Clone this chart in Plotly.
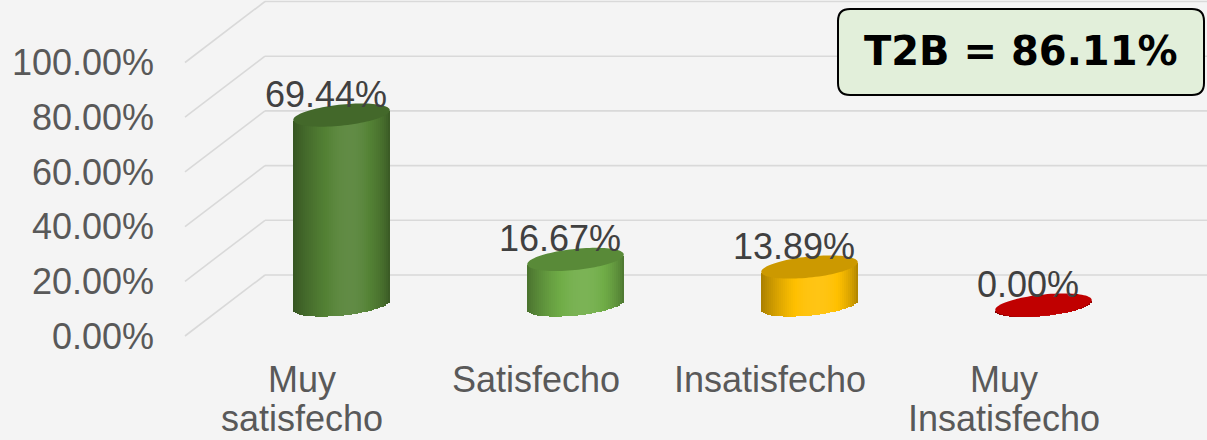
import math
import plotly.graph_objects as go

# ---------------- data ----------------
categories = ["Muy satisfecho", "Satisfecho", "Insatisfecho", "Muy Insatisfecho"]
values = [69.44, 16.67, 13.89, 0.00]
value_labels = ["69.44%", "16.67%", "13.89%", "0.00%"]
tick_values = [0, 20, 40, 60, 80, 100]
tick_labels = ["0.00%", "20.00%", "40.00%", "60.00%", "80.00%", "100.00%"]
bar_colors = ["#548235", "#70AD47", "#FFC000", "#C00000"]
summary_text = "T2B = 86.11%"

# ---------------- geometry ----------------
W, H = 1207, 440
L = 185                      # left margin (plot area starts here)
PX_X = 234.0                 # pixels per category step
PX_Y = 2.735                 # pixels per percent
BAR_PX = 97.0                # bar width in px
N_STRIPS = 48

xlo = -(341.5 - L) / PX_X
xhi = xlo + (W - L) / PX_X


def yrange(zero_px):
    hi = zero_px / PX_Y
    return [hi - H / PX_Y, hi]


y_label_rng = yrange(336)    # front (tick labels)
y_grid_rng = yrange(275)     # back wall (gridlines)
y_bar_rng = yrange(305)      # bars (mid depth)
front_off = (336 - 275) / PX_Y
wall_x = (265 - L) / (W - L)


def shade(hex_color, f):
    r, g, b = (int(hex_color[i:i + 2], 16) for i in (1, 3, 5))
    if f <= 1:
        r, g, b = r * f, g * f, b * f
    else:
        k = f - 1
        r, g, b = r + (255 - r) * k, g + (255 - g) * k, b + (255 - b) * k
    return "rgb(%d,%d,%d)" % (min(255, r), min(255, g), min(255, b))


def profile(t):
    return 0.66 + 0.42 * math.sin(math.pi * t ** 1.276) ** 0.7


A_PX, B_PX, PHI = BAR_PX / 2, 10.5, 6


def ellipse_pts(a_px, b_px, phi_deg, n):
    phi = math.radians(phi_deg)
    out = []
    for k in range(n):
        th = 2 * math.pi * k / n
        dx = a_px * math.cos(th) * math.cos(phi) - b_px * math.sin(th) * math.sin(phi)
        dy = a_px * math.cos(th) * math.sin(phi) + b_px * math.sin(th) * math.cos(phi)
        out.append((dx, dy))
    return out


def ellipse_path(cx, cy, n=90):
    pts = [(cx + dx / PX_X, cy + dy / PX_Y) for dx, dy in ellipse_pts(A_PX, B_PX, PHI, n)]
    return "M " + " L ".join("%.5f,%.5f" % p for p in pts) + " Z"


dense = ellipse_pts(A_PX, B_PX, PHI, 4000)


def lower_arc(u, half):
    cand = [dy for dx, dy in dense if abs(dx - u) <= half]
    if not cand:
        cand = [min(dense, key=lambda p: abs(p[0] - u))[1]]
    return min(cand)


fig = go.Figure()

# helper empty traces so that all axes exist
fig.add_trace(go.Scatter(x=[], y=[], xaxis="x", yaxis="y", showlegend=False))
fig.add_trace(go.Scatter(x=[], y=[], xaxis="x", yaxis="y2", showlegend=False))

# cylinder bodies as shaded vertical strips (following the elliptic caps)
xs = list(range(len(categories)))
bw = BAR_PX / PX_X
sw = bw / N_STRIPS
spx = BAR_PX / N_STRIPS
for i in range(N_STRIPS):
    t = (i + 0.5) / N_STRIPS
    f = profile(t)
    u = -BAR_PX / 2 + (i + 0.5) * spx
    la = lower_arc(u, spx * 0.3)
    base = la / PX_Y
    fig.add_trace(go.Bar(
        x=xs, y=[v + 1.5 / PX_Y for v in values], base=base, xaxis="x", yaxis="y3",
        width=sw * 1.15, offset=-bw / 2 + i * sw,
        marker=dict(color=[shade(c, f) for c in bar_colors], line=dict(width=0)),
        showlegend=False, hoverinfo="skip",
    ))

shapes = []
# back wall gridlines + diagonal side-wall lines
for v in tick_values:
    shapes.append(dict(type="line", xref="paper", yref="y2", x0=wall_x, x1=1, y0=v, y1=v,
                       line=dict(color="#D9D9D9", width=1.6), layer="below"))
    shapes.append(dict(type="line", xref="paper", yref="y2", x0=0, x1=wall_x,
                       y0=v - front_off, y1=v, line=dict(color="#D9D9D9", width=1.6), layer="below"))

for i, (v, c) in enumerate(zip(values, bar_colors)):
    top_f = 0.8 if v > 0 else 1.0
    shapes.append(dict(type="path", xref="x", yref="y3", path=ellipse_path(i, v),
                       fillcolor=shade(c, top_f), line=dict(width=0), layer="above"))

# T2B rounded box
bx0, bx1 = (838 - L) / (W - L), (1204 - L) / (W - L)
by1, by0 = 1 - 9 / H, 1 - 95 / H
rx, ry = 12 / (W - L), 12 / H
box = ("M {a},{t} L {b},{t} Q {x1},{t} {x1},{t2} L {x1},{b2} Q {x1},{y0} {b},{y0} "
       "L {a},{y0} Q {x0},{y0} {x0},{b2} L {x0},{t2} Q {x0},{t} {a},{t} Z").format(
    a=bx0 + rx, b=bx1 - rx, t=by1, t2=by1 - ry, b2=by0 + ry, x0=bx0, x1=bx1, y0=by0)
shapes.append(dict(type="path", xref="paper", yref="paper", path=box,
                   fillcolor="#E2EFDA", line=dict(color="#000000", width=2), layer="above"))

annotations = []
# value labels
for i, (v, lab) in enumerate(zip(values, value_labels)):
    annotations.append(dict(x=i, y=v, xref="x", yref="y3", text=lab, showarrow=False,
                            xshift=-16, yshift=20.5, xanchor="center", yanchor="middle",
                            font=dict(family="Liberation Sans, Arial, sans-serif", size=36, color="#404040")))
# category labels (tight line spacing as in the original)
line_centres = [379.5, 418.0]
for i, cat in enumerate(categories):
    lines = cat.split(" ", 1) if " " in cat else [cat]
    for j, ln in enumerate(lines):
        annotations.append(dict(x=i, y=1 - line_centres[j] / H, xref="x", yref="paper", text=ln,
                                showarrow=False, xshift=-39.5, xanchor="center", yanchor="middle",
                                font=dict(family="Liberation Sans, Arial, sans-serif", size=36, color="#595959")))
# summary box text
annotations.append(dict(x=(bx0 + bx1) / 2, y=1 - 51 / H, xref="paper", yref="paper", text=summary_text,
                        showarrow=False, xanchor="center", yanchor="middle",
                        font=dict(family="DejaVu Sans, sans-serif", size=40, color="#000000", weight="bold")))

fig.update_layout(
    width=W, height=H,
    margin=dict(l=L, r=0, t=0, b=0),
    paper_bgcolor="#F4F4F4", plot_bgcolor="#F4F4F4",
    barmode="overlay", bargap=0,
    showlegend=False,
    xaxis=dict(range=[xlo, xhi], visible=False, fixedrange=True),
    yaxis=dict(range=y_label_rng, tickvals=tick_values, ticktext=tick_labels,
               showgrid=False, zeroline=False, showline=False, ticks="",
               ticklabelstandoff=30, automargin=False,
               tickfont=dict(family="Liberation Sans, Arial, sans-serif", size=36, color="#595959")),
    yaxis2=dict(range=y_grid_rng, overlaying="y", visible=False),
    yaxis3=dict(range=y_bar_rng, overlaying="y", visible=False),
    shapes=shapes,
    annotations=annotations,
)

fig.write_html("out.html")
